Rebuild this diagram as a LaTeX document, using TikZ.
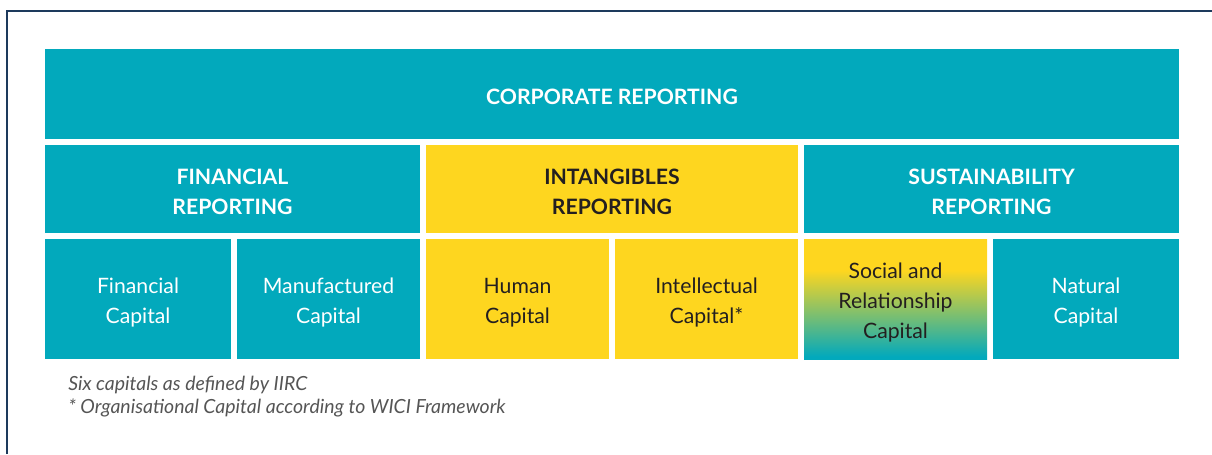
\documentclass[tikz,border=0pt]{standalone}
\usepackage{fontspec}
\setmainfont{Lato}
\definecolor{tealc}{HTML}{02A9BC}
\definecolor{ylw}{HTML}{FED61F}
\definecolor{darktxt}{HTML}{231F20}
\definecolor{notegray}{HTML}{555555}
\definecolor{framec}{HTML}{1D3A5C}
\pgfdeclareverticalshading{socgrad}{100bp}{color(0bp)=(tealc); color(26bp)=(tealc); color(62bp)=(ylw); color(100bp)=(ylw)}
\begin{document}
\begin{tikzpicture}[x=0.75pt,y=-0.75pt,
  cell/.style 2 args={minimum width=#1*0.75pt, minimum height=#2*0.75pt, inner sep=0pt, outer sep=0pt},
  tealbox/.style={fill=tealc},
  ylwbox/.style={fill=ylw},
  lbl/.style={align=center, inner sep=0pt},
  headtxt/.style={lbl, yshift=-2.25pt, font=\fontsize{15.9}{22.5}\selectfont\bfseries},
  captxt/.style={lbl, yshift=-3pt, font=\fontsize{15.9}{22.5}\selectfont},
  wt/.style={text=white},
  dt/.style={text=darktxt},
  notetxt/.style={font=\fontsize{14.6}{17.5}\selectfont\itshape, text=notegray, inner sep=0pt, anchor=base west}]
\useasboundingbox (0,0) rectangle (1212,454);
\draw[framec, line width=1.1pt] (7,454) -- (7,11) -- (1212,11);
% row 1
\node[cell={1134}{90}, tealbox, label={[headtxt, wt]center:{CORPORATE REPORTING}}] (corp) at (612,94) {};
% row 2
\node[cell={375}{88}, tealbox, label={[headtxt, wt]center:{FINANCIAL\\REPORTING}}] (fin) at (232.5,189) {};
\node[cell={372}{88}, ylwbox, label={[headtxt, dt]center:{INTANGIBLES\\REPORTING}}] (intang) at (612,189) {};
\node[cell={375}{88}, tealbox, label={[headtxt, wt]center:{SUSTAINABILITY\\REPORTING}}] (sust) at (991.5,189) {};
% row 3
\node[cell={186}{120}, tealbox, label={[captxt, wt]center:{Financial\\Capital}}] (fc) at (138,299) {};
\node[cell={183}{120}, tealbox, label={[captxt, wt]center:{Manufactured\\Capital}}] (mc) at (328.5,299) {};
\node[cell={183}{120}, ylwbox, label={[captxt, dt]center:{Human\\Capital}}] (hc) at (517.5,299) {};
\node[cell={183}{120}, ylwbox, label={[captxt, dt]center:{Intellectual\\Capital*}}] (ic) at (706.5,299) {};
\node[cell={183}{120}, shading=socgrad, label={[captxt, dt]center:{Social and\\Relationship\\Capital}}] (sc) at (895.5,299) {};
\node[cell={186}{120}, tealbox, label={[captxt, wt]center:{Natural\\Capital}}] (nc) at (1086,299) {};
% notes
\node[notetxt] (note1) at (68,390) {Six capitals as defined by IIRC};
\node[notetxt] (note2) at (68,413) {* Organisational Capital according to WICI Framework};
\end{tikzpicture}
\end{document}
